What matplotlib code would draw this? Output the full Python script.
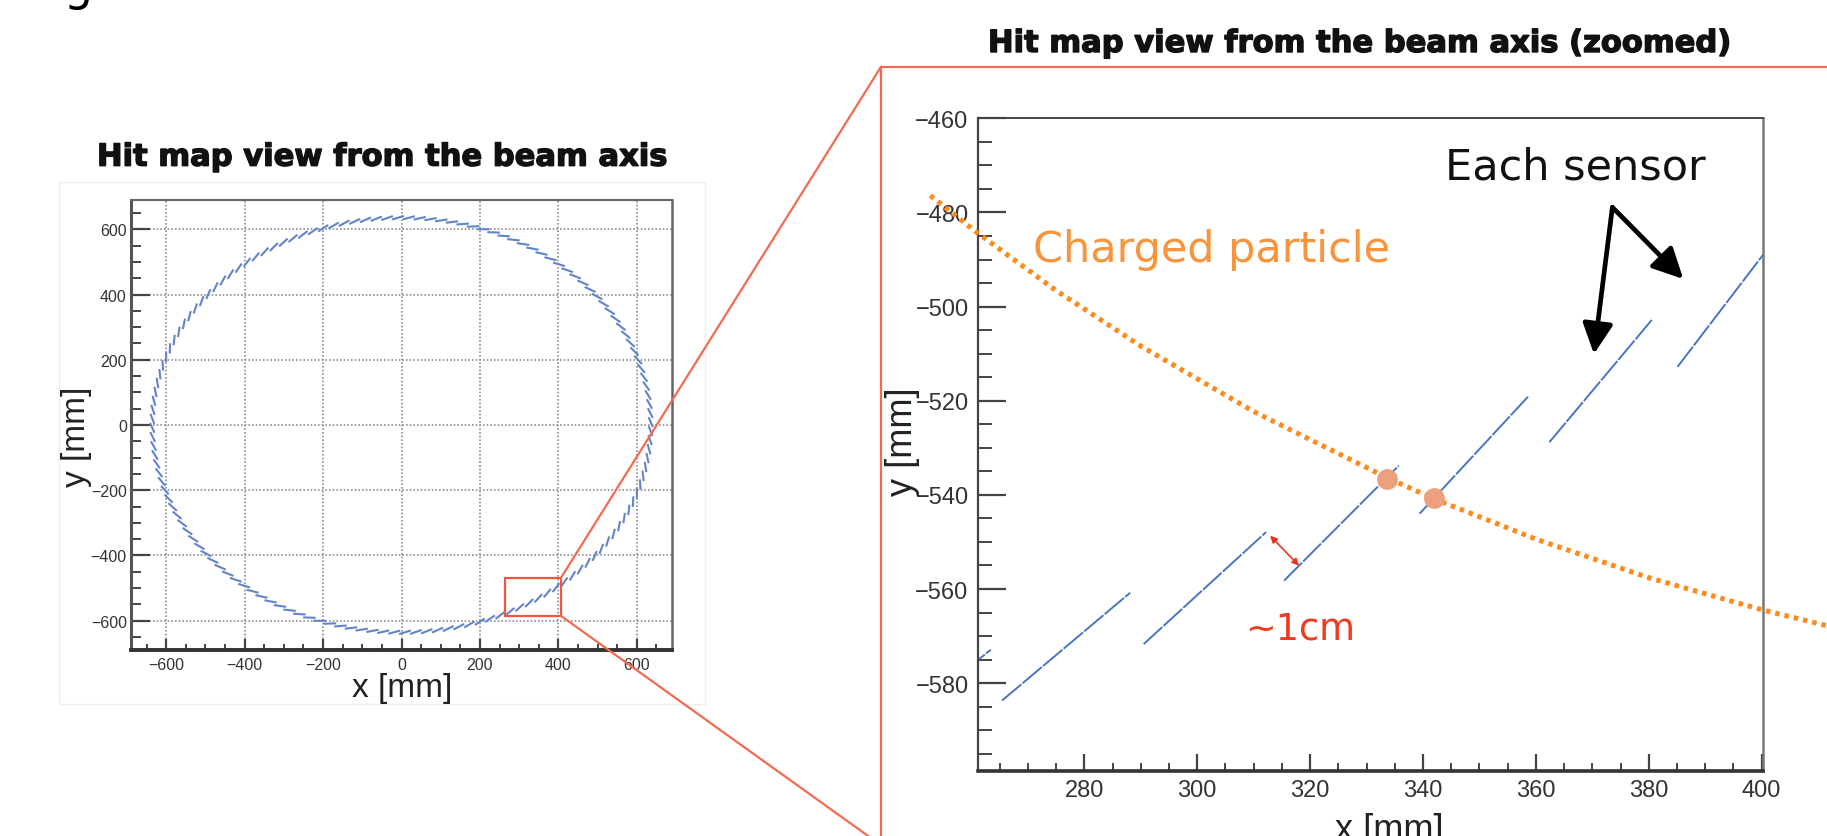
import numpy as np
import matplotlib
matplotlib.use('Agg')
import matplotlib.pyplot as plt
import matplotlib.patheffects as pe
from matplotlib.collections import LineCollection
from matplotlib.patches import Rectangle, FancyArrowPatch
from matplotlib.lines import Line2D
from matplotlib.ticker import MultipleLocator

W, H = 1827, 837

# ---------------- data ----------------
# ring of tilted sensors seen along the beam axis (left panel)
ring_sensor_count = 144
ring_radius_mm = 635.7
sensor_length_mm = 32.0
sensor_tilt_deg = 19.4
first_sensor_angle_deg = -64.19

# sensors visible in the zoomed panel (start / end points, mm)
zoom_sensor_x0 = [240.4, 265.4, 290.5, 315.4, 339.4, 362.4, 385.1]
zoom_sensor_y0 = [-595.2, -583.7, -571.7, -558.2, -544.0, -528.8, -512.8]
zoom_sensor_x1 = [263.4, 288.1, 312.2, 335.7, 358.8, 380.7, 402.3]
zoom_sensor_y1 = [-572.9, -560.8, -547.9, -533.8, -518.9, -502.6, -485.8]

# charged particle track (mm)
track_x = [252.7, 261.0, 275.0, 290.0, 310.0, 333.7, 341.9, 360.0, 380.0, 400.0, 411.6]
track_y = [-476.4, -484.3, -496.6, -508.4, -522.3, -536.4, -540.8, -549.4, -557.6, -564.4, -567.8]

# hits of the track on two sensors
hit_x = [333.7, 341.9]
hit_y = [-536.6, -540.7]

# zoom window drawn on the overview (mm)
zoom_box_x = [263.7, 406.0]
zoom_box_y = [-585.0, -470.0]

left_title = "Hit map view from the beam axis"
right_title = "Hit map view from the beam axis (zoomed)"

# ---------------- helpers ----------------
def fx(px):
    return px / W

def fy(py):
    return 1 - py / H

TICKFONT = 'Liberation Sans'
ANNFONT = 'DejaVu Sans'
TITLEFONT = 'DejaVu Sans'
heavy = [pe.withStroke(linewidth=1.0, foreground='#111111')]

fig = plt.figure(figsize=(W / 100, H / 100), dpi=100)
fig.patch.set_facecolor('white')

# faint border around the left picture
fig.add_artist(Rectangle((fx(59), fy(705)), fx(705) - fx(59), fy(183) - fy(705),
                         transform=fig.transFigure, fill=False, ec='#efefef', lw=1))

# ---------------- left panel ----------------
ax1 = fig.add_axes([fx(131), fy(651), fx(672) - fx(131), fy(201) - fy(651)])
ax1.set_xlim(-690, 690)
ax1.set_ylim(-690, 690)
ax1.set_axisbelow(True)

ang = np.deg2rad(first_sensor_angle_deg + 360.0 / ring_sensor_count * np.arange(ring_sensor_count))
cx = ring_radius_mm * np.cos(ang)
cy = ring_radius_mm * np.sin(ang)
d = ang + np.pi / 2 + np.deg2rad(sensor_tilt_deg)
hx = sensor_length_mm / 2 * np.cos(d)
hy = sensor_length_mm / 2 * np.sin(d)
segs = [[(cx[i] - hx[i], cy[i] - hy[i]), (cx[i] + hx[i], cy[i] + hy[i])] for i in range(ring_sensor_count)]
ax1.add_collection(LineCollection(segs, colors='#6384c8', linewidths=1.5, zorder=2))

ax1.add_patch(Rectangle((zoom_box_x[0], zoom_box_y[0]), zoom_box_x[1] - zoom_box_x[0],
                        zoom_box_y[1] - zoom_box_y[0], fill=False, ec='#f2553f', lw=1.6, zorder=3))

ax1.xaxis.set_major_locator(MultipleLocator(200))
ax1.xaxis.set_minor_locator(MultipleLocator(50))
ax1.yaxis.set_major_locator(MultipleLocator(200))
ax1.yaxis.set_minor_locator(MultipleLocator(50))
ax1.grid(True, which='major', ls=(0, (1, 1.2)), color='#8f8f8f', lw=1.2)
ax1.tick_params(axis='y', which='major', direction='in', length=13.5, width=1.6, color='#444444',
                labelsize=11.5, pad=3, labelcolor='#333333')
ax1.tick_params(axis='y', which='minor', direction='in', length=7.5, width=1.4, color='#444444')
ax1.tick_params(axis='x', which='major', direction='in', length=8, width=1.6, color='#444444',
                labelsize=11.5, pad=5, labelcolor='#333333')
ax1.tick_params(axis='x', which='minor', direction='in', length=4, width=1.4, color='#444444')
for lab in ax1.get_xticklabels() + ax1.get_yticklabels():
    lab.set_family(TICKFONT)
ax1.spines['left'].set_linewidth(2.2)
ax1.spines['left'].set_color('#555555')
ax1.spines['bottom'].set_linewidth(2.8)
ax1.spines['bottom'].set_color('#333333')
ax1.spines['top'].set_linewidth(1.5)
ax1.spines['top'].set_color('#666666')
ax1.spines['right'].set_linewidth(1.8)
ax1.spines['right'].set_color('#666666')

fig.text(fx(97), fy(166.7), left_title, fontsize=22, fontweight='bold', family=TITLEFONT,
         va='baseline', ha='left', color='#111111', path_effects=heavy)
fig.text(fx(401.7), fy(689), 'x [mm]', fontsize=24, ha='center', va='center', family=TICKFONT,
         color='#222222')
fig.text(fx(76), fy(437), 'y [mm]', fontsize=24, ha='center', va='center', rotation=90,
         family=TICKFONT, color='#222222')

# ---------------- right panel ----------------
ax2 = fig.add_axes([fx(978.3), fy(771.7), fx(1763.3) - fx(978.3), fy(119.3) - fy(771.7)])
ax2.set_xlim(261.2, 400.3)
ax2.set_ylim(-598.6, -460)

for x0, y0, x1, y1 in zip(zoom_sensor_x0, zoom_sensor_y0, zoom_sensor_x1, zoom_sensor_y1):
    ax2.plot([x0, x1], [y0, y1], color='#4a74c2', lw=1.4, ls=(0, (13, 0.8)),
             solid_capstyle='butt', zorder=2)

ax2.plot(track_x, track_y, color='#ff8a1c', lw=3.6, ls=(0, (0.9, 1.0)), clip_on=False, zorder=3)
ax2.plot(hit_x, hit_y, 'o', ms=15, color='#eda07e', mec='none', zorder=4, clip_on=False)

ax2.xaxis.set_major_locator(MultipleLocator(20))
ax2.xaxis.set_minor_locator(MultipleLocator(5))
ax2.yaxis.set_major_locator(MultipleLocator(20))
ax2.yaxis.set_minor_locator(MultipleLocator(5))
ax2.tick_params(axis='y', which='major', direction='in', length=20, width=1.6, color='#444444',
                labelsize=17, pad=7, labelcolor='#333333')
ax2.tick_params(axis='y', which='minor', direction='in', length=10, width=1.4, color='#444444')
ax2.tick_params(axis='x', which='major', direction='in', length=12, width=1.6, color='#444444',
                labelsize=17, pad=6, labelcolor='#333333')
ax2.tick_params(axis='x', which='minor', direction='in', length=6, width=1.4, color='#444444')
for lab in ax2.get_xticklabels() + ax2.get_yticklabels():
    lab.set_family(TICKFONT)
ax2.spines['left'].set_linewidth(1.6)
ax2.spines['left'].set_color('#444444')
ax2.spines['bottom'].set_linewidth(2.6)
ax2.spines['bottom'].set_color('#333333')
ax2.spines['top'].set_linewidth(1.4)
ax2.spines['top'].set_color('#444444')
ax2.spines['right'].set_linewidth(1.8)
ax2.spines['right'].set_color('#777777')

fig.text(fx(988), fy(53), right_title, fontsize=22, fontweight='bold', family=TITLEFONT,
         va='baseline', ha='left', color='#111111', path_effects=heavy)
fig.text(fx(1389), fy(813), 'x [mm]', fontsize=26, ha='center', va='top', family=TICKFONT,
         color='#222222')
fig.text(fx(902), fy(442), 'y [mm]', fontsize=26, ha='center', va='center', rotation=90,
         family=TICKFONT, color='#222222')

# ---------------- overlays ----------------
line_col = '#f26a50'
for (xa, ya), (xb, yb) in [((560.7, 579.3), (880.7, 68.3)), ((560.7, 616.7), (880.7, 846)),
                           ((880.7, 68.3), (1830, 68.3)), ((880.7, 68.3), (880.7, 846))]:
    fig.add_artist(Line2D([fx(xa), fx(xb)], [fy(ya), fy(yb)], transform=fig.transFigure,
                          color=line_col, lw=1.6))

fig.text(fx(1032.7), fy(261.7), 'Charged particle', fontsize=31, color='#f7943c', family=ANNFONT,
         va='baseline', ha='left')
fig.text(fx(1444.6), fy(180), 'Each sensor', fontsize=31, color='#111111', family=ANNFONT,
         va='baseline', ha='left')
fig.text(fx(1245.4), fy(640), '~1cm', fontsize=26.5, color='#f0391f', family=ANNFONT,
         va='baseline', ha='left')

for tip in [(1593.9, 355), (1683.3, 280)]:
    fig.add_artist(FancyArrowPatch((fx(1612.4), fy(208.3)), (fx(tip[0]), fy(tip[1])),
                                   transform=fig.transFigure, arrowstyle='-|>', mutation_scale=46,
                                   lw=3.4, color='black', shrinkA=0, shrinkB=0))
fig.add_artist(FancyArrowPatch((fx(1270.1), fy(536.7)), (fx(1299.1), fy(566.7)),
                               transform=fig.transFigure, arrowstyle='<|-|>', mutation_scale=10,
                               lw=1.2, color='#ee3322', shrinkA=0, shrinkB=0))

# descender of a cut-off letter at the very top-left (cut off in the original too)
fig.text(fx(64), fy(0), 'g', fontsize=33, va='baseline', ha='left', family=ANNFONT, color='black')

fig.savefig('out.png', dpi=100)
